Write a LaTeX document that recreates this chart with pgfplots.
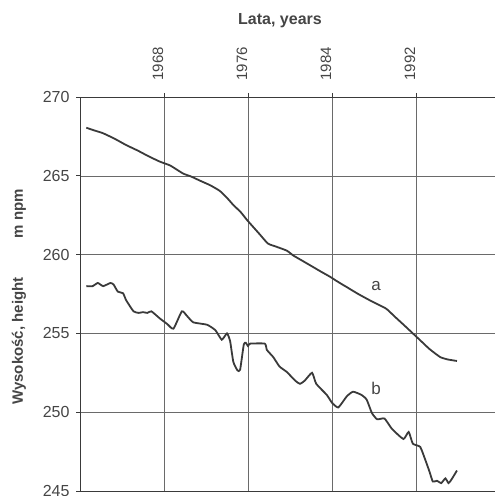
\documentclass[border=0pt]{standalone}
\usepackage{pgfplots}
\pgfplotsset{compat=1.18}
\usepackage{fontspec}
\setmainfont{Liberation Sans}
\definecolor{ink}{HTML}{3A3A3A}
\definecolor{txt}{HTML}{454545}
\definecolor{gridc}{HTML}{6A6A6A}
\begin{document}
\begin{tikzpicture}
\useasboundingbox (0,0) rectangle (495pt,496pt);
\begin{axis}[
  at={(80pt,5pt)}, anchor=south west,
  scale only axis, width=420pt, height=394pt,
  xmin=1960, xmax=2000, ymin=245, ymax=270,
  xtick={1968,1976,1984,1992},
  ytick={245,250,255,260,265,270},
  xtick pos=upper, ytick pos=left,
  tick align=outside, major tick length=4pt,
  grid=major,
  major grid style={gridc, line width=0.6pt},
  axis line style={ink, line width=1pt},
  tick style={ink, line width=0.7pt},
  /pgf/number format/assume math mode=true,
  /pgf/number format/1000 sep={},
  xticklabel style={rotate=90, anchor=west, font=\fontsize{15}{17}\selectfont, text=txt, xshift=9pt, yshift=6pt},
  yticklabel style={font=\fontsize{16}{18}\selectfont, text=txt, xshift=-3pt},
  clip=false,
]
\addplot[ink, line width=1.8pt, smooth, tension=0.3] coordinates {
(1960.6,268.05) (1961.5,267.85) (1962.2,267.7) (1963.3,267.35) (1964.4,266.95)
(1965.5,266.6) (1966.5,266.25) (1967.6,265.9) (1968.6,265.65) (1969.8,265.15)
(1970.6,264.95) (1971.4,264.7) (1972.4,264.4) (1973.3,264.05) (1974.0,263.6)
(1974.6,263.15) (1975.3,262.7) (1975.9,262.2) (1976.5,261.75) (1977.1,261.3)
(1977.9,260.7) (1978.7,260.5) (1979.7,260.25) (1980.3,259.95) (1981.2,259.6)
(1982.1,259.25) (1983.0,258.9) (1983.8,258.6) (1984.5,258.3) (1985.5,257.9)
(1986.5,257.5) (1987.6,257.1) (1988.5,256.8) (1989.2,256.55) (1990.0,256.05)
(1990.9,255.5) (1991.7,255.0) (1992.5,254.5) (1993.3,254.0) (1994.3,253.5)
(1995.0,253.35) (1995.9,253.25)
};
\addplot[ink, line width=1.8pt, smooth, tension=0.3] coordinates {
(1960.6,258.0) (1961.2,258.0) (1961.7,258.2) (1962.2,258.0) (1962.9,258.2)
(1963.2,258.1) (1963.6,257.65) (1964.1,257.55) (1964.4,257.1) (1965.1,256.4)
(1965.6,256.3) (1966.0,256.35) (1966.4,256.3) (1966.8,256.4) (1967.6,255.95)
(1968.3,255.6) (1968.9,255.3) (1969.7,256.4) (1970.2,256.1) (1970.8,255.7)
(1972.1,255.55) (1972.9,255.2) (1973.5,254.6) (1974.0,255.0) (1974.3,254.5)
(1974.6,253.2) (1975.0,252.65) (1975.25,252.7) (1975.6,254.3) (1975.8,254.4)
(1976.0,254.2) (1976.2,254.35) (1977.6,254.35) (1977.8,253.95) (1978.4,253.5)
(1979.0,252.9) (1979.7,252.55) (1980.5,252.0) (1980.95,251.8) (1981.4,252.0)
(1982.1,252.5) (1982.5,251.8) (1983.5,251.1) (1984.0,250.6) (1984.6,250.3)
(1985.4,251.0) (1986.0,251.3) (1986.8,251.1) (1987.3,250.8) (1987.8,249.95)
(1988.3,249.55) (1989.0,249.6) (1989.7,248.95) (1990.8,248.3) (1991.3,248.75)
(1991.7,248.0) (1992.4,247.8) (1992.9,246.95) (1993.3,246.2) (1993.6,245.6)
(1994.0,245.65) (1994.4,245.5) (1994.8,245.8) (1995.1,245.5) (1995.4,245.75)
(1995.9,246.3)
};
\node[txt, font=\fontsize{17}{18}\selectfont] at (axis cs:1988.2,258.0) {a};
\node[txt, font=\fontsize{17}{18}\selectfont] at (axis cs:1988.2,251.5) {b};
\end{axis}
\node[txt, font=\fontsize{16}{18}\selectfont\bfseries] at (280pt,475pt) {Lata, years};
\node[txt, rotate=90, font=\fontsize{15}{18}\selectfont\bfseries] at (19pt,199pt) {Wysokość, height\hspace{2.6em}m npm};
\end{tikzpicture}
\end{document}
